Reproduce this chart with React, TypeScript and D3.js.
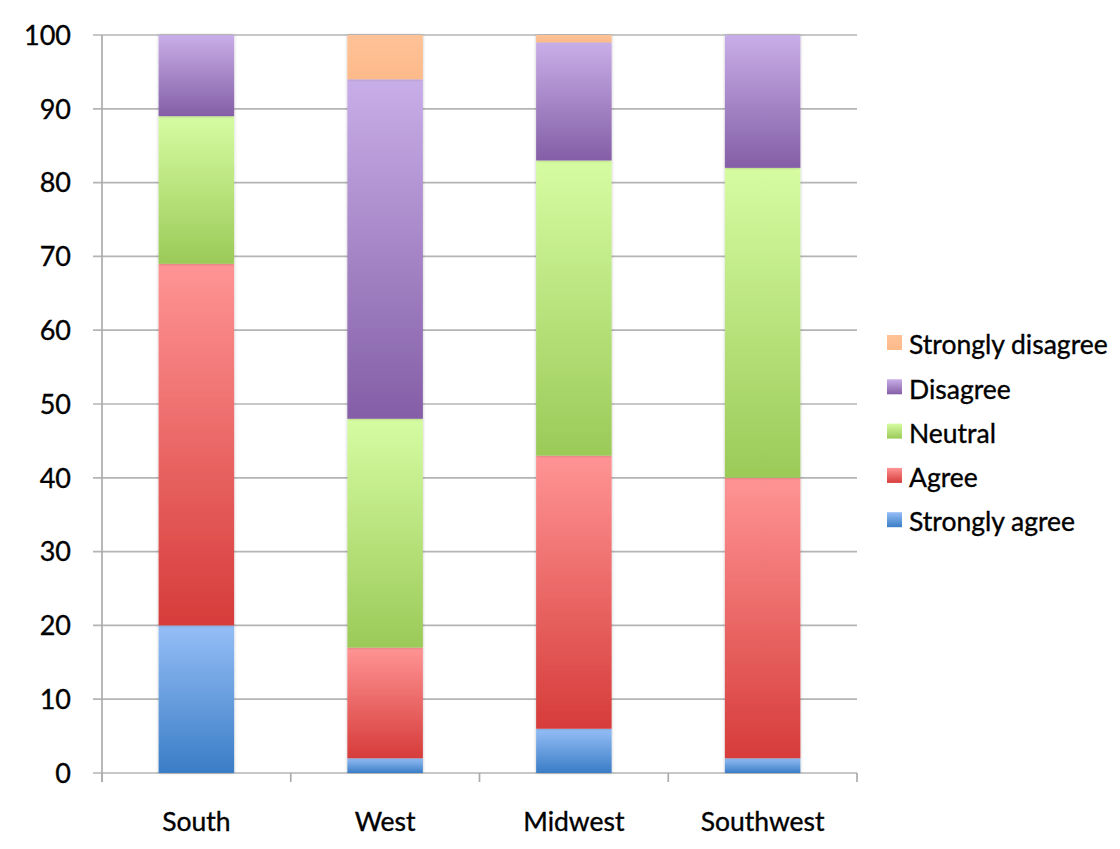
import React from "react";
import * as d3 from "d3";

const regions = ["South", "West", "Midwest", "Southwest"];
const seriesNames = ["Strongly agree", "Agree", "Neutral", "Disagree", "Strongly disagree"];
const stronglyAgree = [20, 2, 6, 2];
const agree = [49, 15, 37, 38];
const neutral = [20, 31, 40, 42];
const disagree = [11, 46, 16, 18];
const stronglyDisagree = [0, 6, 1, 0];
const yTicks = [0, 10, 20, 30, 40, 50, 60, 70, 80, 90, 100];

// gradient stops per series: [top, bottom]
const gradients: [string, string][] = [
  ["#95bef6", "#3a7dc6"],
  ["#ff9494", "#d63c3a"],
  ["#d6fca2", "#9bca58"],
  ["#c8aee8", "#845ea6"],
  ["#ffc296", "#fdba8a"],
];

const W = 1120;
const H = 849;
const left = 102;
const right = 857;
const top = 35;
const bottom = 773;
const font = "Lato, 'Open Sans', sans-serif";
const textStyle = { stroke: "#000", strokeWidth: 0.35 };

export default function App() {
  const series = [stronglyAgree, agree, neutral, disagree, stronglyDisagree];
  const rows = regions.map((r, i) => {
    const o: Record<string, any> = { region: r };
    seriesNames.forEach((s, k) => (o[s] = series[k][i]));
    return o;
  });
  const stacked = d3.stack<any>().keys(seriesNames)(rows);

  const x = d3.scaleBand<string>().domain(regions).range([left, right]).paddingInner(0.6).paddingOuter(0.3);
  const y = d3.scaleLinear().domain([0, 100]).range([bottom, top]);
  const bounds = d3.range(regions.length + 1).map((i) => left + x.step() * i);

  return (
    <svg width={W} height={H} style={{ position: "absolute", left: 0, top: 0, background: "#fff" }}>
      <defs>
        {gradients.map((g, i) => (
          <linearGradient key={i} id={`grad${i}`} x1="0" y1="0" x2="0" y2="1">
            <stop offset="0%" stopColor={g[0]} />
            <stop offset="100%" stopColor={g[1]} />
          </linearGradient>
        ))}
        <filter id="shadow" x="-10%" y="-5%" width="120%" height="110%">
          <feDropShadow dx="0" dy="0" stdDeviation="1.5" floodColor="#000" floodOpacity="0.25" />
        </filter>
      </defs>

      {/* gridlines */}
      {yTicks.map((t) => (
        <line key={t} x1={left - 9} x2={right} y1={y(t)} y2={y(t)} stroke="#b4b4b4" strokeWidth={1.7} />
      ))}
      {/* y axis */}
      <line x1={left} x2={left} y1={top} y2={bottom + 9} stroke="#acacac" strokeWidth={1.7} />
      {/* x tick marks at category boundaries */}
      {bounds.map((b, i) => (
        <line key={i} x1={b} x2={b} y1={bottom} y2={bottom + 9} stroke="#acacac" strokeWidth={1.7} />
      ))}

      {/* stacked bars */}
      {stacked.map((layer, k) => (
        <g key={layer.key}>
          {layer.map((d, i) => {
            const h = y(d[0]) - y(d[1]);
            if (h <= 0) return null;
            return (
              <rect
                key={i}
                x={x(regions[i])}
                y={y(d[1])}
                width={x.bandwidth()}
                height={h}
                fill={`url(#grad${k})`}
                filter="url(#shadow)"
              />
            );
          })}
        </g>
      ))}

      {/* y labels */}
      {yTicks.map((t) => (
        <text key={t} x={71} y={y(t)} dy="0.36em" textAnchor="end" fontFamily={font} fontSize={27} fill="#000" style={textStyle}>
          {t}
        </text>
      ))}
      {/* x labels */}
      {regions.map((r) => (
        <text key={r} x={(x(r) as number) + x.bandwidth() / 2} y={822} dy="0.35em" textAnchor="middle" fontFamily={font} fontSize={26.5} fill="#000" style={textStyle}>
          {r}
        </text>
      ))}

      {/* legend */}
      {seriesNames
        .slice()
        .reverse()
        .map((s, j) => {
          const k = seriesNames.length - 1 - j;
          const cy = 345 + j * 44.3;
          return (
            <g key={s}>
              <rect x={887} y={cy - 10} width={15} height={15} fill={`url(#grad${k})`} />
              <text x={909} y={cy} dy="0.35em" fontFamily={font} fontSize={26.5} fill="#000" style={textStyle}>
                {s}
              </text>
            </g>
          );
        })}
    </svg>
  );
}
